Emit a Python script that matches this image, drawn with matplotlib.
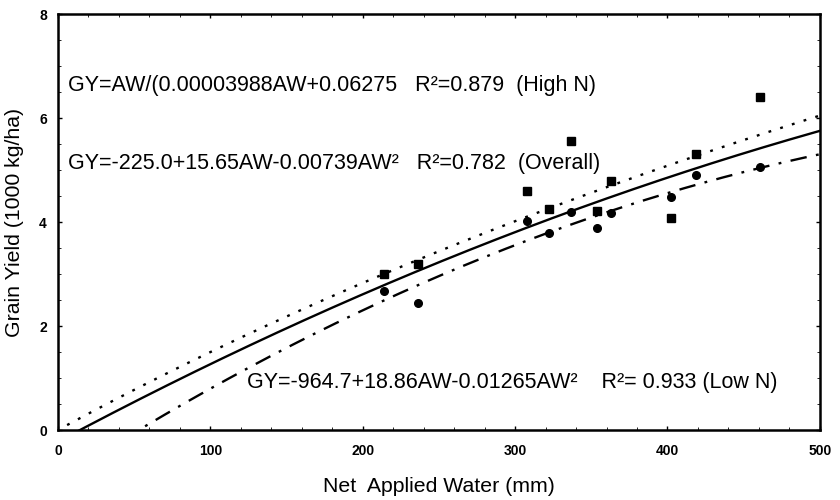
import numpy as np
import matplotlib
matplotlib.use("Agg")
import matplotlib.pyplot as plt

plt.rcParams['font.family'] = ['Liberation Sans', 'DejaVu Sans']

# Data points (AW in mm, yield in 1000 kg/ha)
aw_points = [214, 236, 308, 322, 337, 354, 363, 402, 419, 461]
high_n_yield = [3.00, 3.19, 4.60, 4.25, 5.56, 4.21, 4.79, 4.08, 5.31, 6.40]
low_n_yield = [2.67, 2.44, 4.02, 3.79, 4.19, 3.88, 4.17, 4.48, 4.90, 5.06]

# Regression coefficients from the chart (kg/ha)
high_n_coef = [0.00003988, 0.06275]          # GY = AW/(a*AW + b)
overall_coef = [-225.0, 15.65, -0.00739]     # GY = c0 + c1*AW + c2*AW^2
low_n_coef = [-964.7, 18.86, -0.01265]

x_ticks = [0, 100, 200, 300, 400, 500]
y_ticks = [0, 2, 4, 6, 8]

fig = plt.figure(figsize=(8.4, 5.0), dpi=100)
ax = fig.add_axes([0.069, 0.14, 0.907, 0.832])

aw = np.linspace(0, 500, 501)
high = aw / (high_n_coef[0] * aw + high_n_coef[1]) / 1000
overall = (overall_coef[0] + overall_coef[1] * aw + overall_coef[2] * aw ** 2) / 1000
low = (low_n_coef[0] + low_n_coef[1] * aw + low_n_coef[2] * aw ** 2) / 1000

m = aw >= 6
ax.plot(aw[m], high[m], color='black', lw=1.7, linestyle=(0, (1.2, 4)))
ax.plot(aw, overall, color='black', lw=1.7, linestyle='-')
ax.plot(aw, low, color='black', lw=1.7, linestyle=(0, (7, 4, 1.2, 4)))

ax.plot(aw_points, high_n_yield, 's', color='black', ms=5.5, linestyle='none')
ax.plot(aw_points, low_n_yield, 'o', color='black', ms=5.5, linestyle='none')

ax.set_xlim(0, 500)
ax.set_ylim(0, 8)
ax.set_xticks(x_ticks)
ax.set_yticks(y_ticks)
ax.set_xticklabels([str(v) for v in x_ticks], fontsize=10, fontweight='bold')
ax.set_yticklabels([str(v) for v in y_ticks], fontsize=10, fontweight='bold')
ax.tick_params(axis='x', direction='in', length=3, width=1, pad=10, top=True)
ax.tick_params(axis='y', direction='in', length=3, width=1, pad=8, right=True)
ax.minorticks_on()
ax.tick_params(which='minor', direction='in', length=2, top=True, right=True)
for s in ax.spines.values():
    s.set_linewidth(1.8)

ax.set_xlabel('Net  Applied Water (mm)', fontsize=15.3, labelpad=14)
ax.set_ylabel('Grain Yield (1000 kg/ha)', fontsize=15.3, labelpad=11)

fs = 15.5
ax.text(6.5, 6.63, 'GY=AW/(0.00003988AW+0.06275   R²=0.879  (High N)',
        fontsize=fs, va='center', ha='left')
ax.text(6.5, 5.13, 'GY=-225.0+15.65AW-0.00739AW²   R²=0.782  (Overall)',
        fontsize=fs, va='center', ha='left')
ax.text(124, 0.92, 'GY=-964.7+18.86AW-0.01265AW²    R²= 0.933 (Low N)',
        fontsize=fs, va='center', ha='left')

fig.savefig('out.png', dpi=100)
